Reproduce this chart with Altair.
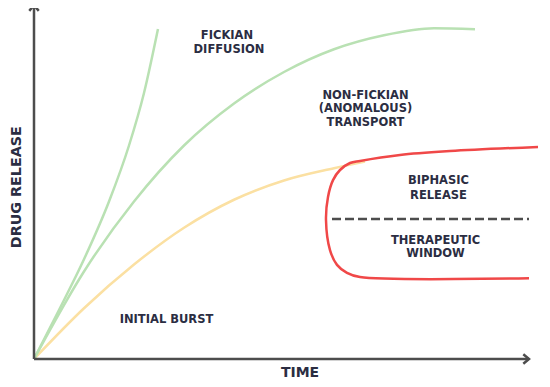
import altair as alt
import pandas as pd

# ---- data (time 0..~100, release 0..~100) ----
yellow_t = [0, 10, 20, 30, 40, 50, 60, 66.2]
yellow_r = [0, 14.5, 27.0, 37.5, 45.5, 51.0, 54.5, 56.4]

fick_t = [0, 5, 10, 15, 19, 22, 24.8]
fick_r = [0, 14.0, 28.5, 45.0, 61.0, 76.0, 94.3]

nonfick_t = [0, 10, 20, 30, 40, 50, 60, 70, 80, 88.2]
nonfick_r = [0, 25.0, 45.0, 61.0, 73.0, 82.0, 88.5, 92.5, 94.5, 94.2]

biph_t = [100.8, 83.2, 73.2, 65.2, 63.2, 61.2, 59.8, 58.8, 58.4, 59.2, 60.6, 62.6, 65.2, 99.0]
biph_r = [60.6, 59.4, 58.3, 56.6, 56.0, 54.0, 51.1, 46.3, 39.7, 31.1, 26.9, 24.6, 23.4, 23.1]

window_t = [59.6, 99.0]
window_r = [40.0, 40.0]

axis_end_t = 99.0
axis_end_r = 101.1

label_text = ["FICKIAN", "DIFFUSION", "NON-FICKIAN", "(ANOMALOUS)", "TRANSPORT",
              "BIPHASIC", "RELEASE", "THERAPEUTIC", "WINDOW", "INITIAL BURST"]
label_t = [38.6, 39.0, 66.3, 66.3, 66.3, 80.9, 80.9, 80.3, 80.3, 26.5]
label_r = [92.3, 88.3, 75.1, 71.3, 67.5, 50.9, 46.7, 33.7, 29.9, 11.1]

x_title = "TIME"
y_title = "DRUG RELEASE"

# ---- styling ----
TEXT = "#2b2d42"
AXIS = "#4d4d4d"
FONT = "DejaVu Sans"

xs = alt.Scale(domain=[-5.2, 101.6], nice=False, zero=False)
ys = alt.Scale(domain=[-5.714, 100.286], nice=False, zero=False)


def curve(ts, rs, color, interp, width=2.5):
    df = pd.DataFrame({"t": ts, "r": rs, "i": list(range(len(ts)))})
    return alt.Chart(df).mark_line(
        color=color, strokeWidth=width, interpolate=interp, clip=False
    ).encode(
        x=alt.X("t:Q", scale=xs, axis=None),
        y=alt.Y("r:Q", scale=ys, axis=None),
        order="i:Q",
    )


axes_df = pd.DataFrame({"t": [0, 0], "t2": [axis_end_t, 0], "r": [0, 0], "r2": [0, axis_end_r]})
axes = alt.Chart(axes_df).mark_rule(color=AXIS, strokeWidth=2.5).encode(
    x=alt.X("t:Q", scale=xs, axis=None), x2="t2:Q",
    y=alt.Y("r:Q", scale=ys, axis=None), y2="r2:Q",
)

heads_df = pd.DataFrame({"t": [axis_end_t, 0], "r": [0, axis_end_r], "a": [0, 270]})
heads = alt.Chart(heads_df).mark_point(
    shape="M-1.2,-1L0,0L-1.2,1", filled=False, size=90, color=AXIS, strokeWidth=2.5, opacity=1
).encode(
    x=alt.X("t:Q", scale=xs, axis=None),
    y=alt.Y("r:Q", scale=ys, axis=None),
    angle=alt.Angle("a:Q", scale=None),
)

yellow = curve(yellow_t, yellow_r, "#fbe0a2", "monotone")
fick = curve(fick_t, fick_r, "#b9e1b3", "monotone")
nonfick = curve(nonfick_t, nonfick_r, "#b9e1b3", "monotone")
biph = curve(biph_t, biph_r, "#f04848", "catmull-rom")

win_df = pd.DataFrame({"t": window_t, "r": window_r})
window = alt.Chart(win_df).mark_line(color=AXIS, strokeWidth=2.5, strokeDash=[9, 4]).encode(
    x=alt.X("t:Q", scale=xs, axis=None), y=alt.Y("r:Q", scale=ys, axis=None)
)

lab_df = pd.DataFrame({"txt": label_text, "t": label_t, "r": label_r})
labels = alt.Chart(lab_df).mark_text(
    font=FONT, fontWeight="bold", fontSize=11.5, color=TEXT, align="center", baseline="middle"
).encode(
    x=alt.X("t:Q", scale=xs, axis=None), y=alt.Y("r:Q", scale=ys, axis=None), text="txt:N"
)

xt = alt.Chart(pd.DataFrame({"txt": [x_title], "t": [53.2], "r": [-4.0]})).mark_text(
    font=FONT, fontWeight="bold", fontSize=14, color=TEXT, align="center", baseline="middle"
).encode(x=alt.X("t:Q", scale=xs, axis=None), y=alt.Y("r:Q", scale=ys, axis=None), text="txt:N")

yt = alt.Chart(pd.DataFrame({"txt": [y_title], "t": [-3.4], "r": [49.1]})).mark_text(
    font=FONT, fontWeight="bold", fontSize=14.3, color=TEXT, align="center", baseline="middle", angle=270
).encode(x=alt.X("t:Q", scale=xs, axis=None), y=alt.Y("r:Q", scale=ys, axis=None), text="txt:N")

chart = alt.layer(
    yellow, fick, nonfick, biph, window, axes, heads, labels, xt, yt
).properties(
    width=534, height=371,
    autosize=alt.AutoSizeParams(type="none"),
    padding=0,
    background="white",
).configure_view(stroke=None)

chart.save("out.html", embed_options={"renderer": "svg", "actions": False})
